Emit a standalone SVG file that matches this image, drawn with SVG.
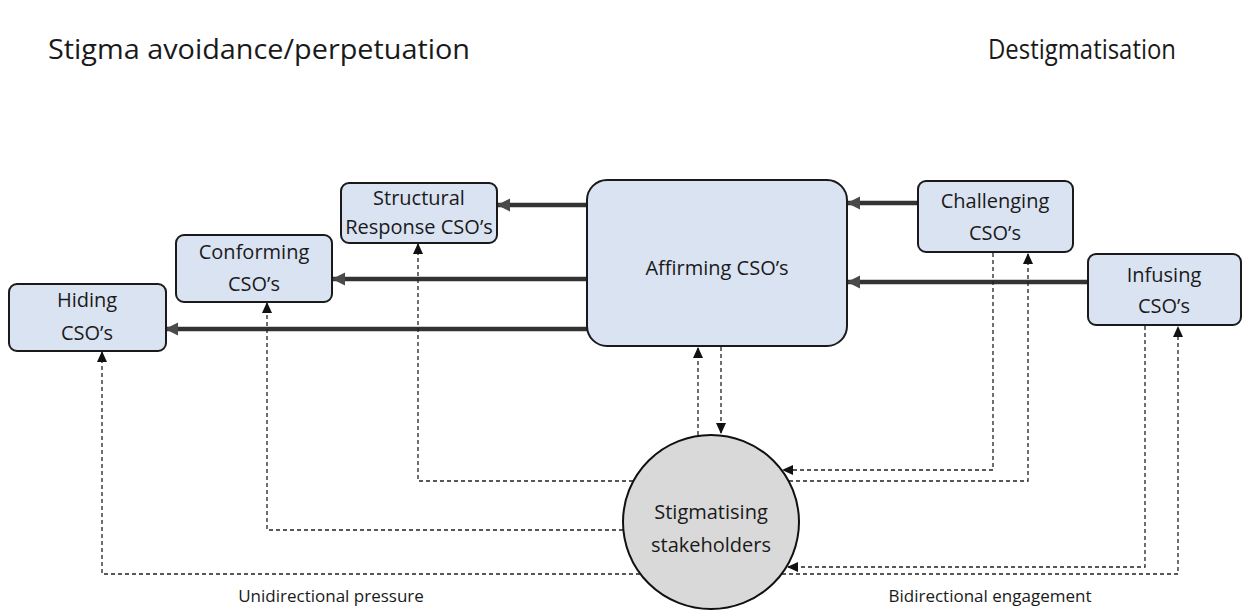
<svg xmlns="http://www.w3.org/2000/svg" width="1248" height="611" viewBox="0 0 1248 611">
<defs>
<style>
text{font-family:"Open Sans","Liberation Sans",sans-serif;fill:#1a1a1a;text-anchor:middle}
.title{font-size:27px;text-anchor:start}
.lbl{font-size:20px}
.foot{font-size:17px}
.box{fill:#dae3f2;stroke:#1a1a1a;stroke-width:2}
.solid{stroke:#333;stroke-width:4.5;fill:none;marker-end:url(#ah)}
.dash{stroke:#222;stroke-width:1.3;stroke-dasharray:4 3;fill:none}
.da{marker-end:url(#dh)}
</style>
<marker id="ah" markerWidth="16" markerHeight="16" refX="12" refY="8" orient="auto" markerUnits="userSpaceOnUse"><path d="M0,1.5 L13,8 L0,14.5 z" fill="#4a4a4a"/></marker>
<marker id="dh" markerWidth="12" markerHeight="12" refX="10" refY="6" orient="auto" markerUnits="userSpaceOnUse"><path d="M0,1 L11,6 L0,11 z" fill="#111"/></marker>
</defs>
<rect width="1248" height="611" fill="#fff"/>
<text class="title" x="48" y="59" textLength="422" lengthAdjust="spacingAndGlyphs">Stigma avoidance/perpetuation</text>
<text class="title" x="988" y="59" textLength="188" lengthAdjust="spacingAndGlyphs">Destigmatisation</text>

<g id="connectors">
<line class="solid" x1="587" y1="205" x2="498" y2="205"/>
<line class="solid" x1="587" y1="279" x2="333" y2="279"/>
<line class="solid" x1="587" y1="329" x2="166" y2="329"/>
<line class="solid" x1="918" y1="203" x2="848" y2="203"/>
<line class="solid" x1="1088" y1="282" x2="848" y2="282"/>
<polyline class="dash da" points="633,481 418,481 418,244"/>
<polyline class="dash da" points="623,530 267,530 267,303"/>
<polyline class="dash da" points="640,574 102,574 102,352"/>
<polyline class="dash da" points="698,435 698,348"/>
<polyline class="dash da" points="721,347 721,433"/>
<polyline class="dash da" points="993,253 993,470 783,470"/>
<polyline class="dash da" points="789,481 1028,481 1028,254"/>
<polyline class="dash da" points="1145,326 1145,567 788,567"/>
<polyline class="dash da" points="782,574 1178,574 1178,327"/>
</g>

<g id="hiding"><rect class="box" x="9" y="284" width="157" height="67" rx="8"/><text class="lbl" x="87" y="307">Hiding</text><text class="lbl" x="87" y="340">CSO’s</text></g>
<g id="conforming"><rect class="box" x="176" y="235" width="156" height="67" rx="8"/><text class="lbl" x="254" y="259">Conforming</text><text class="lbl" x="254" y="291">CSO’s</text></g>
<g id="structural"><rect class="box" x="341" y="183" width="156" height="60" rx="8"/><text class="lbl" x="419" y="205">Structural</text><text class="lbl" x="419" y="234">Response CSO’s</text></g>
<g id="affirming"><rect class="box" x="587" y="180" width="260" height="166" rx="20"/><text class="lbl" x="717" y="275">Affirming CSO’s</text></g>
<g id="challenging"><rect class="box" x="918" y="181" width="155" height="71" rx="8"/><text class="lbl" x="995" y="208">Challenging</text><text class="lbl" x="995" y="240">CSO’s</text></g>
<g id="infusing"><rect class="box" x="1088" y="254" width="153" height="71" rx="8"/><text class="lbl" x="1164" y="282">Infusing</text><text class="lbl" x="1164" y="313">CSO’s</text></g>
<g id="stigmatising"><ellipse cx="711" cy="522" rx="88" ry="87" fill="#d9d9d9" stroke="#111" stroke-width="2"/><text class="lbl" x="711" y="519">Stigmatising</text><text class="lbl" x="711" y="552">stakeholders</text></g>

<text class="foot" x="331" y="602">Unidirectional pressure</text>
<text class="foot" x="990" y="602">Bidirectional engagement</text>
</svg>
